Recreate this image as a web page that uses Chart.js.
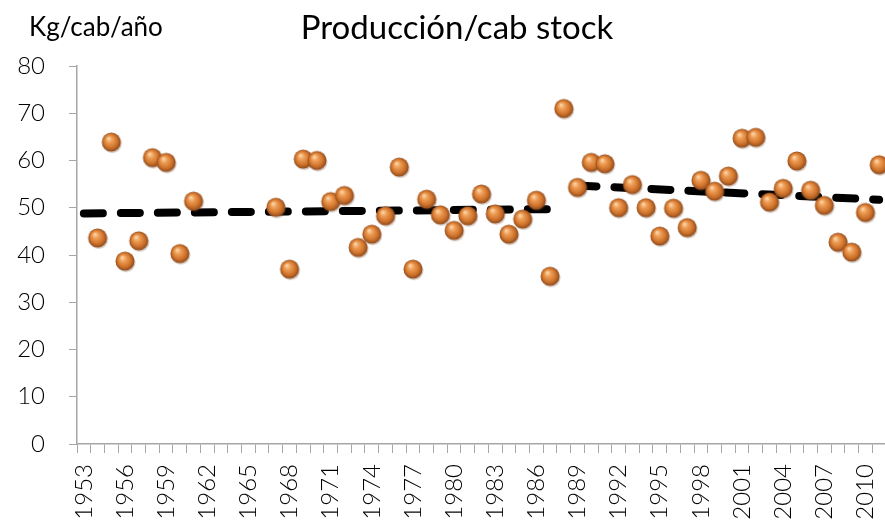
<!DOCTYPE html>
<html>
<head>
<meta charset="utf-8">
<script src="https://cdn.jsdelivr.net/npm/chart.js@4"></script>
<style>
  html, body { margin: 0; padding: 0; background: #fff; overflow: hidden; }
  #wrap { width: 897px; height: 528px; }
</style>
</head>
<body>
<div id="wrap"><canvas id="myChart" width="897" height="528"></canvas></div>
<script>
const years = ['1953','1954','1955','1956','1957','1958','1959','1960','1961','1962',
    '1963','1964','1965','1966','1967','1968','1969','1970','1971','1972',
    '1973','1974','1975','1976','1977','1978','1979','1980','1981','1982',
    '1983','1984','1985','1986','1987','1988','1989','1990','1991','1992',
    '1993','1994','1995','1996','1997','1998','1999','2000','2001','2002',
    '2003','2004','2005','2006','2007','2008','2009','2010','2011'];

// kg per head per year (null = no data)
const production = [null, 43.6, 63.9, 38.7, 43.0, 60.6, 59.6, 40.3, 51.4, null,
    null, null, null, null, 50.1, 37.0, 60.3, 60.0, 51.3, 52.6,
    41.6, 44.4, 48.3, 58.6, 37.0, 51.8, 48.5, 45.2, 48.3, 52.9,
    48.7, 44.4, 47.6, 51.6, 35.5, 71.0, 54.3, 59.6, 59.3, 50.0,
    54.9, 50.0, 44.0, 49.9, 45.8, 55.8, 53.5, 56.7, 64.7, 64.9,
    51.2, 54.1, 59.9, 53.7, 50.5, 42.7, 40.6, 49.0, 59.1];

// trend line end points
const trend1Years = ['1953', '1987'];
const trend1Values = [48.8, 49.7];
const trend2Years = ['1989', '2011'];
const trend2Values = [54.7, 51.7];

const yTicks = [0, 10, 20, 30, 40, 50, 60, 70, 80];

const chartTitle = 'Producción/cab stock';
const unitLabel = 'Kg/cab/año';

// orange 3d ball used as point marker
function makeBall(r) {
    const size = Math.ceil(r * 2 + 5);
    const c = document.createElement('canvas');
    c.width = size;
    c.height = size;
    const g = c.getContext('2d');
    const cx = size / 2, cy = size / 2;

    g.fillStyle = 'rgba(90,60,40,0.25)';
    g.beginPath();
    g.arc(cx + 1, cy + 1.5, r, 0, Math.PI * 2);
    g.fill();

    const grad = g.createRadialGradient(cx - r * 0.3, cy - r * 0.4, r * 0.05, cx, cy, r);
    grad.addColorStop(0, '#fcd6aa');
    grad.addColorStop(0.3, '#ee9d55');
    grad.addColorStop(0.7, '#cf732c');
    grad.addColorStop(1, '#8f4a1b');
    g.fillStyle = grad;
    g.beginPath();
    g.arc(cx, cy, r, 0, Math.PI * 2);
    g.fill();
    return c;
}

const ball = makeBall(9.5);

const textPlugin = {
    id: 'texts',
    afterDraw(chart) {
        const ctx = chart.ctx;
        ctx.save();
        ctx.fillStyle = '#000';
        ctx.textBaseline = 'alphabetic';
        ctx.font = '400 33px Lato';
        ctx.textAlign = 'center';
        ctx.fillText(chartTitle, 457, 39);
        ctx.font = '400 26px Lato';
        ctx.textAlign = 'left';
        ctx.fillText(unitLabel, 29, 36);
        ctx.restore();
    }
};

const ctx = document.getElementById('myChart');

new Chart(ctx, {
    data: {
        labels: years,
        datasets: [{
            type: 'line',
            label: 'Producción',
            data: production,
            showLine: false,
            pointStyle: ball,
            pointRadius: 10,
            order: 0
        }, {
            type: 'line',
            label: 'Tendencia 1',
            data: trend1Years.map((y, i) => ({ x: y, y: trend1Values[i] })),
            borderColor: '#000',
            borderWidth: 8,
            borderDash: [19, 18],
            borderCapStyle: 'round',
            pointRadius: 0,
            order: 1
        }, {
            type: 'line',
            label: 'Tendencia 2',
            data: trend2Years.map((y, i) => ({ x: y, y: trend2Values[i] })),
            borderColor: '#000',
            borderWidth: 8,
            borderDash: [19, 18],
            borderCapStyle: 'round',
            pointRadius: 0,
            order: 1
        }]
    },
    options: {
        responsive: false,
        animation: false,
        layout: { padding: { top: 66, right: 0, left: 0, bottom: 0 } },
        plugins: {
            legend: { display: false },
            tooltip: { enabled: false }
        },
        scales: {
            x: {
                type: 'category',
                offset: true,
                grid: {
                    offset: true,
                    drawOnChartArea: false,
                    tickLength: 9,
                    color: '#a6a6a6'
                },
                border: { color: '#a6a6a6', width: 1.5 },
                ticks: {
                    autoSkip: false,
                    minRotation: 90,
                    maxRotation: 90,
                    padding: 11,
                    color: '#000',
                    font: { family: 'Lato', size: 24, weight: '300' },
                    callback: function (value, index) {
                        return index % 3 === 0 ? years[index] : '';
                    }
                },
                afterFit: function (scale) {
                    scale.height = 84;
                    scale.paddingLeft = 0;
                    scale.paddingRight = 0;
                }
            },
            y: {
                min: 0,
                max: 80,
                afterBuildTicks: function (scale) {
                    scale.ticks = yTicks.map(v => ({ value: v }));
                },
                grid: {
                    drawOnChartArea: false,
                    tickLength: 8,
                    color: '#a6a6a6'
                },
                border: { color: '#a6a6a6', width: 1.5 },
                ticks: {
                    padding: 24,
                    color: '#000',
                    font: { family: 'Lato', size: 24, weight: '300' }
                },
                afterFit: function (scale) { scale.width = 77; }
            }
        }
    },
    plugins: [textPlugin]
});
</script>
</body>
</html>
